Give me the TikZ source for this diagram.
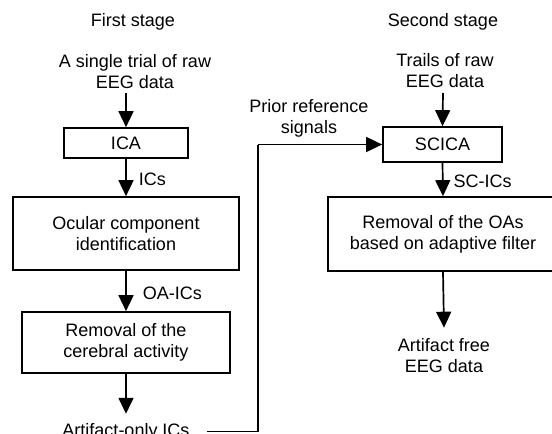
\documentclass[tikz,border=0pt]{standalone}
\usepackage{fontspec}
\setmainfont{Liberation Sans}
\usetikzlibrary{arrows.meta}
\tikzset{
  lbl/.style={inner sep=0pt, align=center, font=\fontsize{18}{21}\selectfont},
  box/.style={draw, line width=1.7pt, inner sep=0pt, align=center, font=\fontsize{18}{21}\selectfont},
  arr/.style={line width=1.7pt, -{Triangle[length=16pt,width=15pt]}},
  link/.style={line width=1.7pt}
}
\begin{document}
\begin{tikzpicture}[x=1pt,y=-1pt]
\useasboundingbox (0,0) rectangle (552,434);
% first stage
\node[lbl] (s1) at (133,22) {First stage};
\node[lbl] (in1) at (135,72) {A single trial of raw\\EEG data};
\node[box, minimum width=124pt, minimum height=30pt] (ica) at (126,143) {ICA};
\node[box, minimum width=226pt, minimum height=73pt] (ocu) at (126,233.5) {Ocular component\\identification};
\node[box, minimum width=208pt, minimum height=61pt] (rca) at (126,342.5) {Removal of the\\cerebral activity};
\node[lbl, anchor=base] (aoi) at (126,436) {Artifact-only ICs};
% second stage
\node[lbl] (s2) at (443,22) {Second stage};
\node[lbl] (in2) at (445,71) {Trails of raw\\EEG data};
\node[lbl] (prior) at (309,118) {Prior reference\\signals};
\node[box, minimum width=119pt, minimum height=35pt] (scica) at (442.5,144.5) {SCICA};
\node[box, minimum width=230pt, minimum height=74pt] (roa) at (443,234) {Removal of the OAs\\based on adaptive filter};
\node[lbl] (afree) at (444,356) {Artifact free\\EEG data};
% connectors
\coordinate (j0) at (207,431.5);
\coordinate (j1) at (258,431.5);
\coordinate (j2) at (258,144.5);
\draw[arr] (126,93) -- (ica.north);
\draw[arr] (ica.south) -- node[lbl, right=12pt, yshift=-2pt] {ICs} (ocu.north);
\draw[arr] (ocu.south) -- node[lbl, right=16pt, yshift=-2pt] {OA-ICs} (rca.north);
\draw[arr] (rca.south) -- ([yshift=9pt]aoi.north);
\draw[link] (j0) -- (j1) -- (j2);
\draw[arr] (j2) -- (scica.west);
\draw[arr] (443,93) -- (scica.north);
\draw[arr] (scica.south) -- node[lbl, right=10pt, yshift=-2pt] {SC-ICs} (roa.north);
\draw[arr] (roa.south) -- ([yshift=11pt]afree.north);
\end{tikzpicture}
\end{document}
